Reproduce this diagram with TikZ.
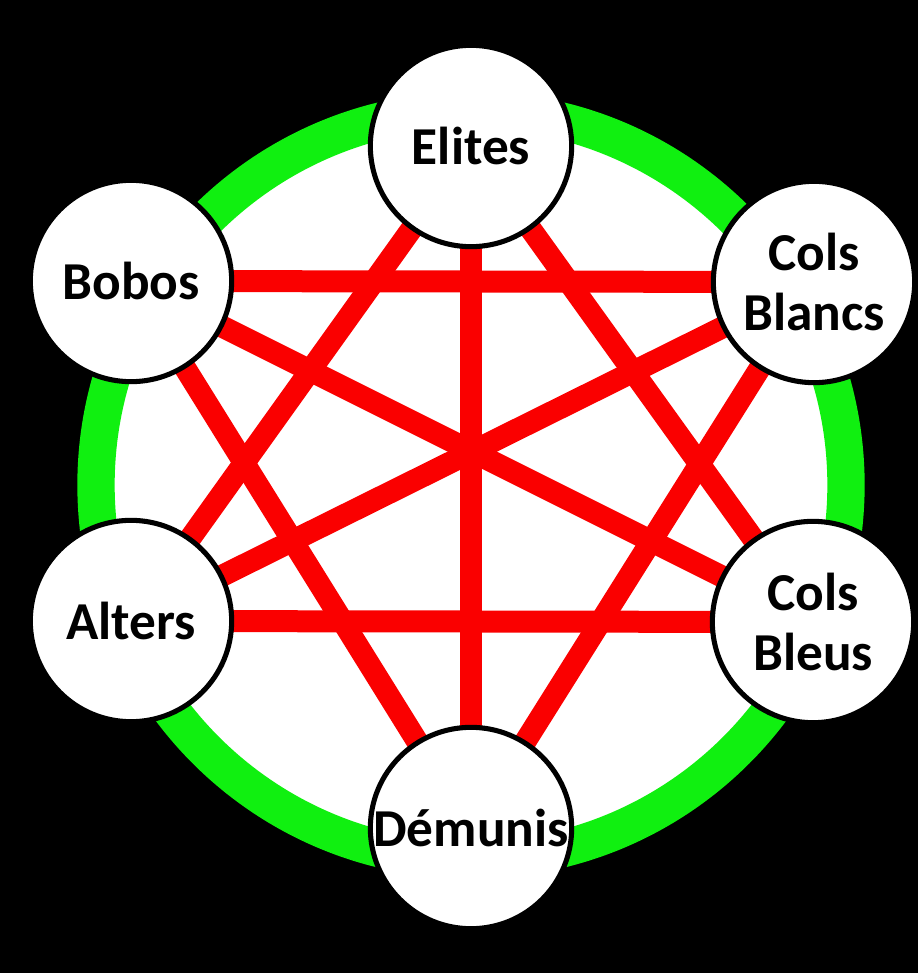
\documentclass[tikz,border=0pt]{standalone}
\usepackage{fontspec}
\setmainfont{Carlito}
\usetikzlibrary{backgrounds}
\definecolor{ringgreen}{RGB}{16,240,16}
\definecolor{linkred}{RGB}{250,0,0}
\tikzset{
  group/.style={circle, draw=black, line width=3.8pt, fill=white, minimum size=151pt, inner sep=0pt, align=center,
    font=\fontsize{40}{45}\selectfont\bfseries, text=black},
  link/.style={draw=linkred, line width=16.5pt},
  ring/.style={draw=ringgreen, line width=28pt, fill=white}
}
\begin{document}
\begin{tikzpicture}[x=0.75pt,y=-0.75pt]
  \useasboundingbox (0,0) rectangle (918,973);
  \node[group] (eli) at (471,146) {Elites};
  \node[group] (bob) at (131,281) {Bobos};
  \node[group] (cbl) at (814,282) {Cols\\Blancs};
  \node[group] (alt) at (131,621) {Alters};
  \node[group] (cbe) at (813,622) {Cols\\Bleus};
  \node[group] (dem) at (471,828) {Démunis};
  \begin{scope}[on background layer]
    \fill[black] (0,0) rectangle (918,973);
    \coordinate (rc) at (471,485);
    \path[ring] (rc) circle[radius=375];
    \draw[link] (eli.center) -- (dem.center);
    \draw[link] (eli.center) -- (alt.center);
    \draw[link] (eli.center) -- (cbe.center);
    \draw[link] (bob.center) -- (cbl.center);
    \draw[link] (bob.center) -- (cbe.center);
    \draw[link] (bob.center) -- (dem.center);
    \draw[link] (cbl.center) -- (alt.center);
    \draw[link] (cbl.center) -- (dem.center);
    \draw[link] (alt.center) -- (cbe.center);
  \end{scope}
\end{tikzpicture}
\end{document}
